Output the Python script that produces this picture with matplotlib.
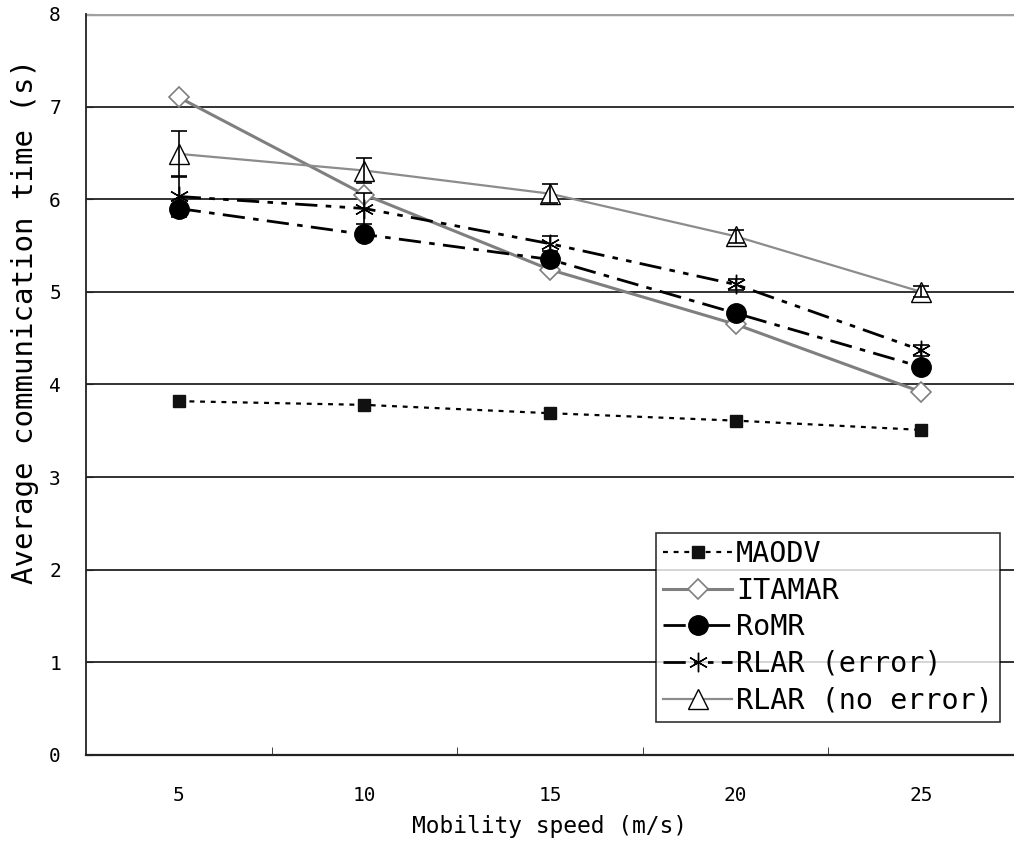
import matplotlib
matplotlib.use("Agg")

import matplotlib.pyplot as plt
import numpy as np


###-------------------data------------------------------------###
speeds          =   ["5", "10", "15", "20", "25"]
maodv           =   [3.82, 3.78, 3.69, 3.61, 3.51]
itamar          =   [7.10, 6.05, 5.24, 4.65, 3.92]
romr            =   [5.90, 5.62, 5.35, 4.77, 4.19]
rlar_err        =   [6.03, 5.90, 5.52, 5.08, 4.37]
rlar_err_bar    =   [0.22, 0.17, 0.08, 0.06, 0.06]
rlar_noerr      =   [6.49, 6.31, 6.06, 5.60, 5.00]
rlar_noerr_bar  =   [0.25, 0.14, 0.10, 0.07, 0.06]

mono    =   "DejaVu Sans Mono"

###-------------------figure----------------------------------###
fig     =   plt.figure(figsize=(10.14, 8.43), dpi=100, facecolor="white")
ax      =   fig.add_axes([0.0848, 0.1044, 0.9152, 0.8790])

x       =   np.arange(len(speeds))

ax.plot(x, maodv, color="black", lw=1.6, linestyle=(0, (2.2, 2.6)),
        marker="s", ms=8, mfc="#111111", mec="#111111", label="MAODV", zorder=4)
ax.plot(x, itamar, color="#7f7f7f", lw=2.2, linestyle="-",
        marker="D", ms=10, mfc="white", mec="#7f7f7f", mew=1.2, label="ITAMAR", zorder=3)
ax.plot(x, romr, color="black", lw=2.0, linestyle=(0, (8, 3, 2, 3)),
        marker="o", ms=14, mfc="black", mec="black", label="RoMR", zorder=4)
ax.plot(x, rlar_err, color="black", lw=2.0, linestyle=(0, (8, 3, 2, 3, 2, 3)),
        marker=(6, 2, 0), ms=14, mew=1.0, label="RLAR (error)", zorder=5)
ax.plot(x, rlar_noerr, color="#8c8c8c", lw=1.6, linestyle="-",
        marker="^", ms=14, mfc="white", mec="black", mew=1.0,
        label="RLAR (no error)", zorder=5)

###-------------------error_bars------------------------------###
for vals, errs in [(rlar_err, rlar_err_bar), (rlar_noerr, rlar_noerr_bar)]:
    ax.errorbar(x, vals, yerr=errs, fmt="none", ecolor="black",
                elinewidth=1.2, capsize=6, capthick=1.2, zorder=6)

###-------------------axes------------------------------------###
ax.set_xlim(-0.5, len(speeds) - 0.5)
ax.set_ylim(0, 8)
ax.set_yticks(range(0, 9))
ax.yaxis.grid(True, color="#222222", lw=1.3)
ax.set_axisbelow(True)

ax.set_xticks(x)
ax.set_xticklabels(speeds)
ax.set_xticks(x[:-1] + 0.5, minor=True)
ax.tick_params(axis="x", which="major", length=0, pad=22, labelsize=14)
ax.tick_params(axis="x", which="minor", length=6, direction="in", color="#222222")
ax.tick_params(axis="y", length=5, direction="in", pad=18, labelsize=14, color="#222222")
for lab in ax.get_xticklabels() + ax.get_yticklabels():
    lab.set_family(mono)

for side in ["top", "right"]:
    ax.spines[side].set_visible(False)
ax.spines["left"].set_color("#222222")
ax.spines["bottom"].set_color("#222222")
ax.spines["left"].set_linewidth(1.3)
ax.spines["bottom"].set_linewidth(1.6)
ax.axhline(8, color="#a0a0a0", lw=2.5, zorder=1)

ax.set_xlabel("Mobility speed (m/s)", family=mono, fontsize=16.5, va="center")
ax.xaxis.set_label_coords(0.5, -0.097)
ax.set_ylabel("Average communication time (s)", family=mono, fontsize=21, va="center")
ax.yaxis.set_label_coords(-0.066, 0.585)

leg     =   ax.legend(loc="lower right", bbox_to_anchor=(0.985, 0.045),
                      prop={"family": mono, "size": 20.5}, frameon=True, fancybox=False,
                      edgecolor="black", handlelength=2.4, handletextpad=0.15,
                      borderpad=0.25, labelspacing=0.3, borderaxespad=0)
leg.get_frame().set_linewidth(1.2)

plt.savefig("out.png", dpi=100)
